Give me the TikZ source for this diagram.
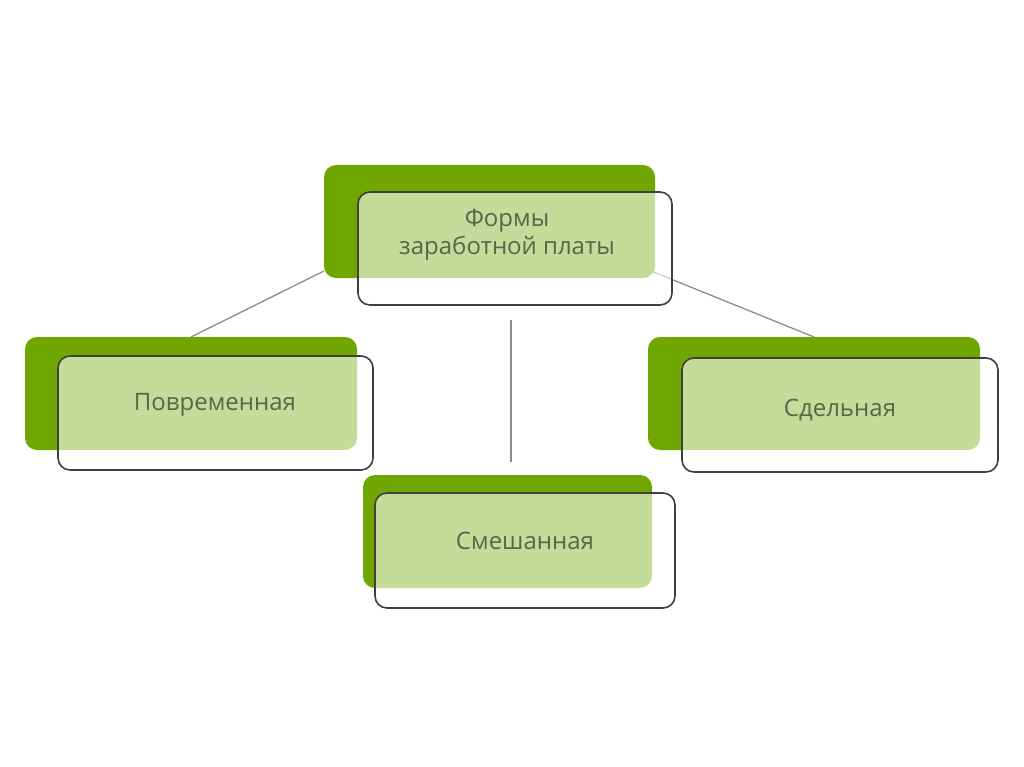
\documentclass[tikz,border=0pt]{standalone}
\usepackage{fontspec}
\setmainfont{Open Sans}
\definecolor{dkgreen}{RGB}{112,166,0}
\definecolor{txt}{RGB}{88,102,72}
\definecolor{edge}{RGB}{64,64,64}
\definecolor{conn}{RGB}{140,140,140}
\tikzset{
  back/.style={fill=dkgreen, rounded corners=12pt, inner sep=0pt, outer sep=0pt, minimum height=113pt},
  front/.style={fill=white, fill opacity=0.6, draw=edge, draw opacity=1, line width=1.6pt, rounded corners=12pt, inner sep=0pt, outer sep=0pt},
  lbl/.style={text=txt, font=\fontsize{24}{28}\selectfont, align=center, inner sep=0pt},
  connector/.style={draw=conn, line width=1.3pt}
}
\begin{document}
\begin{tikzpicture}[x=1pt,y=-1pt]
\useasboundingbox (0,0) rectangle (1024,767);
% connectors
\coordinate (t1) at (324,271);
\coordinate (t2) at (651,271);
\coordinate (v1) at (511,320);
\coordinate (v2) at (511,462);
% back boxes
\node[back, minimum width=331pt] (topd) at (489.5,221.5) {};
\node[back, minimum width=332pt] (leftd) at (191,393.5) {};
\node[back, minimum width=332pt] (rightd) at (814,393.5) {};
\node[back, minimum width=289pt] (botd) at (507.5,531.5) {};
\draw[connector] (t1) -- (leftd.north);
\draw[connector] (t2) -- (rightd.north);
\draw[connector] (v1) -- (v2);
% front boxes
\node[front, minimum width=314pt, minimum height=113pt] (topf) at (515,248.5) {};
\node[front, minimum width=315pt, minimum height=114pt] (leftf) at (215.5,413) {};
\node[front, minimum width=316pt, minimum height=114pt] (rightf) at (840,415) {};
\node[front, minimum width=300pt, minimum height=115pt] (botf) at (525,550.5) {};
% labels
\node[lbl] (toplbl) at (507,235) {Формы\\заработной платы};
\node[lbl] (leftlbl) at (215,405) {Повременная};
\node[lbl] (rightlbl) at (840,410) {Сдельная};
\node[lbl] (botlbl) at (525,541) {Смешанная};
\end{tikzpicture}
\end{document}
